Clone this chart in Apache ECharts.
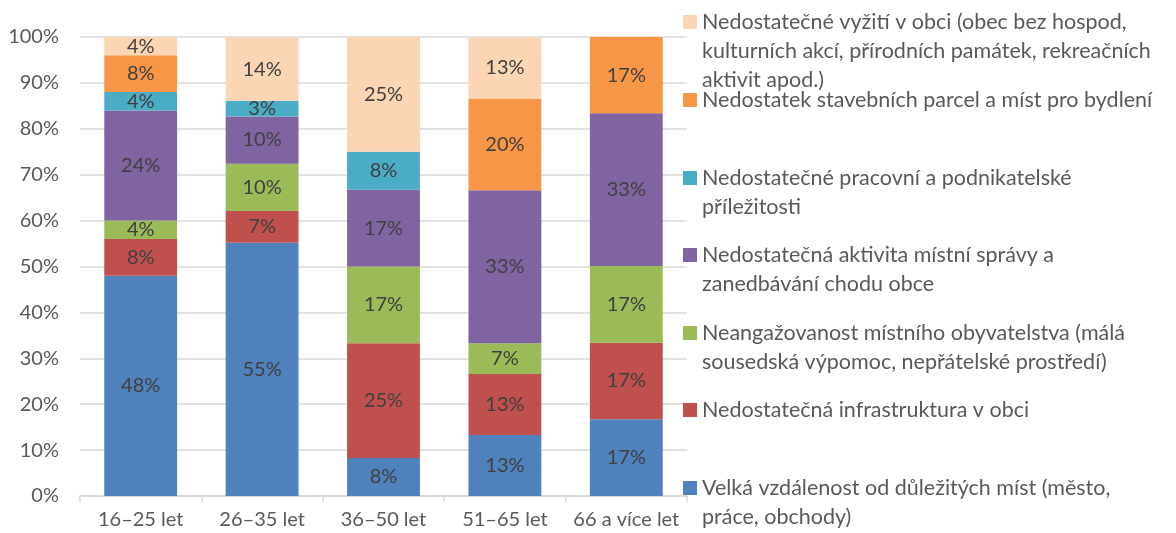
<!DOCTYPE html>
<html>
<head>
<meta charset="utf-8">
<script src="https://cdn.jsdelivr.net/npm/echarts@6/dist/echarts.min.js"></script>
<style>
  html, body { margin: 0; padding: 0; background: #fff; }
  #chart { width: 1176px; height: 533px; }
</style>
</head>
<body>
<div id="chart"></div>
<script>
  // věkové skupiny
  const categories = ['16–25 let', '26–35 let', '36–50 let', '51–65 let', '66 a více let']
  const yTicks = [0, 10, 20, 30, 40, 50, 60, 70, 80, 90, 100]

  // podíly v % (zdola nahoru)
  const vzdalenost = [48, 55.2, 8.3, 13.3, 16.7]
  const infrastruktura = [8, 6.9, 25, 13.3, 16.7]
  const neangazovanost = [4, 10.3, 16.7, 6.7, 16.7]
  const sprava = [24, 10.3, 16.7, 33.3, 33.3]
  const prace = [4, 3.4, 8.3, 0, 0]
  const parcely = [8, 0, 0, 20, 16.7]
  const vyziti = [4, 13.8, 25, 13.3, 0]

  const names = [
    'Velká vzdálenost od důležitých míst (město, práce, obchody)',
    'Nedostatečná infrastruktura v obci',
    'Neangažovanost místního obyvatelstva (málá sousedská výpomoc, nepřátelské prostředí)',
    'Nedostatečná aktivita místní správy a zanedbávání chodu obce',
    'Nedostatečné pracovní a podnikatelské příležitosti',
    'Nedostatek stavebních parcel a míst pro bydlení',
    'Nedostatečné vyžití v obci (obec bez hospod, kulturních akcí, přírodních památek, rekreačních aktivit apod.)'
  ]
  // zalomení textu v legendě
  const legendLines = [
    ['Velká vzdálenost od důležitých míst (město,', 'práce, obchody)'],
    ['Nedostatečná infrastruktura v obci'],
    ['Neangažovanost místního obyvatelstva (málá', 'sousedská výpomoc, nepřátelské prostředí)'],
    ['Nedostatečná aktivita místní správy a', 'zanedbávání chodu obce'],
    ['Nedostatečné pracovní a podnikatelské', 'příležitosti'],
    ['Nedostatek stavebních parcel a míst pro bydlení'],
    ['Nedostatečné vyžití v obci (obec bez hospod,', 'kulturních akcí, přírodních památek, rekreačních', 'aktivit apod.)']
  ]
  const values = [vzdalenost, infrastruktura, neangazovanost, sprava, prace, parcely, vyziti]
  const colors = ['#4F81BD', '#C0504D', '#9BBB59', '#8064A2', '#4BACC6', '#F79646', '#FCD5B4']

  const font = 'Lato'
  const lineH = 29
  // středy ikon legendy (od spodní položky)
  const legendCenters = [488, 410, 333, 255, 178, 100, 22]

  const chart = echarts.init(document.getElementById('chart'))

  // každá položka legendy zvlášť; prázdné řádky navíc posunou 1. řádek k ikoně
  const legends = names.map((name, i) => {
    const n = legendLines[i].length
    const h = (2 * n - 1) * lineH
    const txt = '\n'.repeat(n - 1) + legendLines[i].join('\n')
    return {
      data: [name],
      left: 683,
      top: legendCenters[i] - h / 2,
      padding: 0,
      itemWidth: 14,
      itemHeight: 14,
      icon: 'rect',
      selectedMode: false,
      formatter: () => txt,
      textStyle: {
        fontFamily: font,
        fontSize: 21.5,
        color: '#595959',
        lineHeight: lineH
      }
    }
  })

  const series = names.map((name, i) => ({
    name: name,
    type: 'bar',
    stack: 'total',
    barWidth: '60%',
    data: values[i],
    itemStyle: { color: colors[i] },
    label: {
      show: true,
      position: 'inside',
      fontFamily: font,
      fontSize: 20,
      color: '#404040',
      formatter: (p) => (p.value > 0 ? Math.round(p.value) + '%' : '')
    }
  }))

  const options = {
    animation: false,
    color: colors,
    grid: { left: 80, right: 489, top: 37, bottom: 37 },
    legend: legends,
    xAxis: {
      type: 'category',
      data: categories,
      axisLine: { lineStyle: { color: '#D9D9D9', width: 1.5 } },
      axisTick: { show: true, length: 6, lineStyle: { color: '#D9D9D9', width: 1.5 } },
      axisLabel: { interval: 0, fontFamily: font, fontSize: 20, color: '#595959', margin: 14 }
    },
    yAxis: {
      type: 'value',
      min: yTicks[0],
      max: yTicks[yTicks.length - 1],
      interval: 10,
      axisLine: { show: false },
      axisTick: { show: false },
      splitLine: { lineStyle: { color: '#D9D9D9', width: 1.5 } },
      axisLabel: { fontFamily: font, fontSize: 20, color: '#595959', margin: 21, formatter: '{value}%' }
    },
    series: series
  }

  chart.setOption(options)
</script>
</body>
</html>
